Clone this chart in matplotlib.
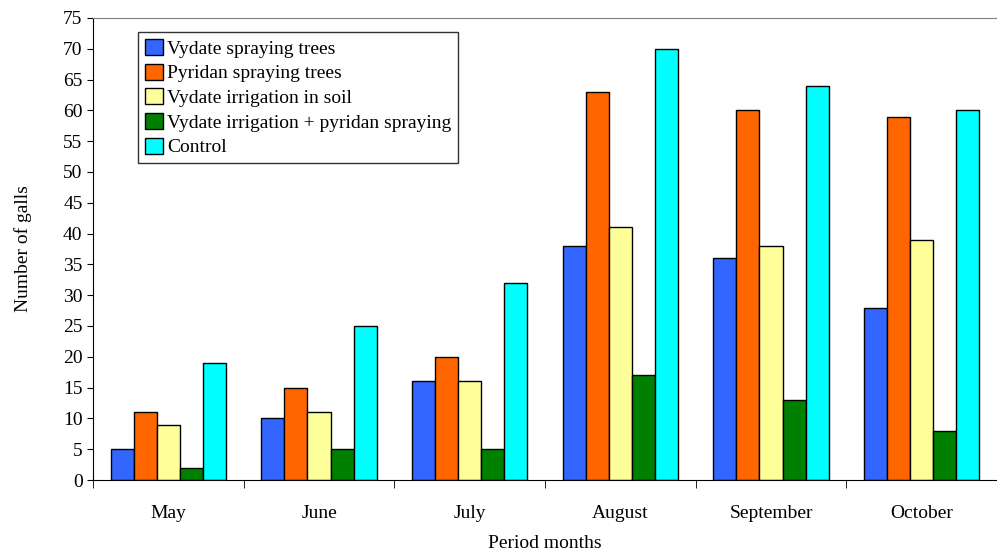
import numpy as np
import matplotlib.pyplot as plt

# data
months = ['May', 'June', 'July', 'August', 'September', 'October']
series_names = ['Vydate spraying trees', 'Pyridan spraying trees',
                'Vydate irrigation in soil', 'Vydate irrigation + pyridan spraying',
                'Control']
vydate_spray = [5, 10, 16, 38, 36, 28]
pyridan_spray = [11, 15, 20, 63, 60, 59]
vydate_irrig = [9, 11, 16, 41, 38, 39]
vydate_irrig_pyridan = [2, 5, 5, 17, 13, 8]
control = [19, 25, 32, 70, 64, 60]
colors = ['#3366FF', '#FF6600', '#FFFF99', '#008000', '#00FFFF']

plt.rcParams['font.family'] = ['Liberation Serif', 'DejaVu Serif']

fig = plt.figure(figsize=(9.97, 5.53), dpi=100)
ax = fig.add_axes([0.0933, 0.132, 0.9067, 0.8355])

x = np.arange(len(months))
w = 0.153
all_series = [vydate_spray, pyridan_spray, vydate_irrig, vydate_irrig_pyridan, control]
for i, vals in enumerate(all_series):
    ax.bar(x + (i - 2) * w, vals, w, color=colors[i], edgecolor='black',
           linewidth=1.0, label=series_names[i])

ax.set_xlim(-0.5, 5.47)
ax.set_ylim(0, 75)
ax.set_yticks(range(0, 76, 5))
ax.set_xticks(x)
ax.set_xticklabels(months, fontsize=14)
ax.tick_params(axis='x', length=0, pad=18)
ax.set_xticks(np.arange(-0.5, 6, 1), minor=True)
ax.tick_params(axis='x', which='minor', length=6, direction='out')
ax.tick_params(axis='y', labelsize=14, length=4, direction='out')

ax.spines['right'].set_visible(False)
ax.spines['top'].set_color('#808080')
ax.spines['left'].set_color('black')
ax.spines['bottom'].set_color('black')

ax.set_xlabel('Period months', fontsize=14, labelpad=9)
ax.set_ylabel('Number of galls', fontsize=14, labelpad=22)

leg = ax.legend(loc='upper left', bbox_to_anchor=(0.05, 0.969), fontsize=14,
                frameon=True, fancybox=False, edgecolor='black',
                handlelength=0.9, handleheight=0.9, handletextpad=0.25,
                labelspacing=0.3, borderaxespad=0, borderpad=0.35)
leg.get_frame().set_linewidth(1.0)

fig.savefig('out.png', dpi=100)
